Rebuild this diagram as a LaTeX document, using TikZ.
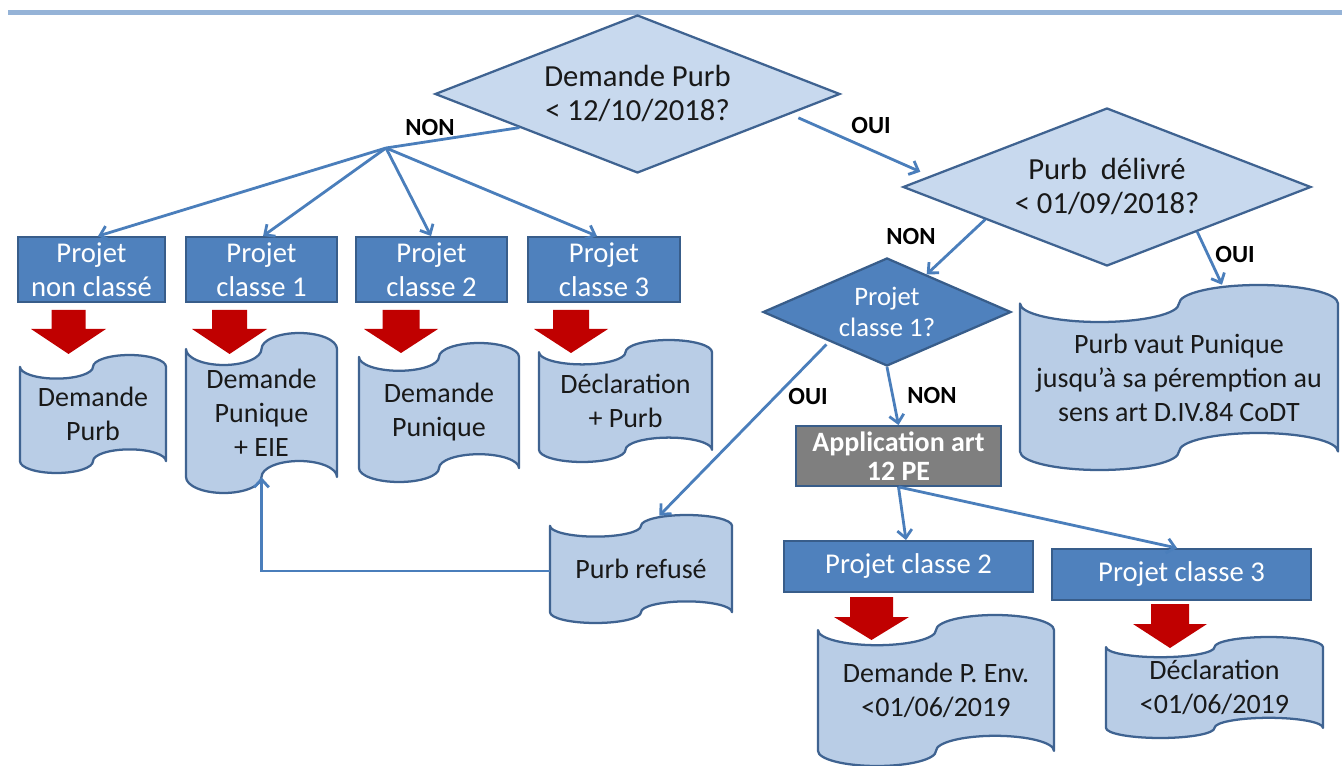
\documentclass[tikz,border=0pt]{standalone}
\usepackage{fontspec}
\setmainfont{Carlito}
\usetikzlibrary{arrows.meta,calc,shapes.geometric}
\definecolor{docfill}{RGB}{185,205,230}
\definecolor{diafill}{RGB}{200,217,238}
\definecolor{shapeborder}{RGB}{63,99,145}
\definecolor{boxfill}{RGB}{79,129,189}
\definecolor{boxborder}{RGB}{56,93,138}
\definecolor{connblue}{RGB}{74,126,187}
\definecolor{redarrowc}{RGB}{192,0,0}
\definecolor{grayfill}{RGB}{127,127,127}
\definecolor{topbarc}{RGB}{149,179,215}
\definecolor{textdark}{RGB}{25,25,25}

% punched-tape document: name, x, y, w, h, text
\newcommand{\tape}[6]{%
  \pgfmathsetmacro\tpa{#4/4}\pgfmathsetmacro\tpb{#5/10}%
  \pgfmathsetmacro\tpka{0.5523*#4/4}\pgfmathsetmacro\tpkb{0.5523*#5/10}%
  \pgfmathsetmacro\tpxa{#2}\pgfmathsetmacro\tpxb{#2+\tpa}\pgfmathsetmacro\tpxc{#2+2*\tpa}%
  \pgfmathsetmacro\tpxd{#2+3*\tpa}\pgfmathsetmacro\tpxe{#2+4*\tpa}%
  \pgfmathsetmacro\tpya{#3}\pgfmathsetmacro\tpyb{#3+\tpb}\pgfmathsetmacro\tpyc{#3+2*\tpb}%
  \pgfmathsetmacro\tpyd{#3+8*\tpb}\pgfmathsetmacro\tpye{#3+9*\tpb}\pgfmathsetmacro\tpyf{#3+10*\tpb}%
  \draw[docshape] (\tpxa,\tpyb)
    .. controls (\tpxa,{\tpyb+\tpkb}) and ({\tpxb-\tpka},\tpyc) .. (\tpxb,\tpyc)
    .. controls ({\tpxb+\tpka},\tpyc) and (\tpxc,{\tpyb+\tpkb}) .. (\tpxc,\tpyb)
    .. controls (\tpxc,{\tpyb-\tpkb}) and ({\tpxd-\tpka},\tpya) .. (\tpxd,\tpya)
    .. controls ({\tpxd+\tpka},\tpya) and (\tpxe,{\tpyb-\tpkb}) .. (\tpxe,\tpyb)
    -- (\tpxe,\tpye)
    .. controls (\tpxe,{\tpye-\tpkb}) and ({\tpxd+\tpka},\tpyd) .. (\tpxd,\tpyd)
    .. controls ({\tpxd-\tpka},\tpyd) and (\tpxc,{\tpye-\tpkb}) .. (\tpxc,\tpye)
    .. controls (\tpxc,{\tpye+\tpkb}) and ({\tpxb+\tpka},\tpyf) .. (\tpxb,\tpyf)
    .. controls ({\tpxb-\tpka},\tpyf) and (\tpxa,{\tpye+\tpkb}) .. (\tpxa,\tpye)
    -- cycle;
  \node[doctext, minimum width={#4*0.75pt}, minimum height={#5*0.75pt}] (#1) at ({#2+#4/2},{#3+#5/2}) {#6};%
}
% rectangle box: name, x1, y1, x2, y2, style, text
\newcommand{\rbox}[7]{%
  \node[#6, minimum width={(#4-#2)*0.75pt}, minimum height={(#5-#3)*0.75pt}] (#1) at ({(#2+#4)/2},{(#3+#5)/2}) {#7};%
}
% red block arrow: cx, top, neck, tip, shaft half width, head half width
\newcommand{\redarr}[6]{%
  \fill[redarrowc] ({#1-#5},#2) -- ({#1+#5},#2) -- ({#1+#5},#3) -- ({#1+#6},#3) -- (#1,#4) -- ({#1-#6},#3) -- ({#1-#5},#3) -- cycle;%
}

\begin{document}
\begin{tikzpicture}[x=0.75pt,y=-0.75pt,
  docshape/.style={fill=docfill, draw=shapeborder, line width=1.7pt, line join=round},
  doctext/.style={inner sep=0pt, align=center, text=textdark, font=\fontsize{21}{25.5}\selectfont},
  bluebox/.style={rectangle, fill=boxfill, draw=boxborder, line width=1.4pt, text=white, align=center, inner sep=0pt, font=\fontsize{21.5}{25.5}\selectfont},
  graybox/.style={bluebox, fill=grayfill, font=\bfseries\fontsize{21}{22}\selectfont},
  decision/.style={diamond, fill=diafill, draw=shapeborder, line width=1.7pt, align=center, inner sep=0pt, text=textdark, font=\fontsize{23}{25.5}\selectfont},
  decisiondark/.style={decision, fill=boxfill, draw=boxborder, text=white, font=\fontsize{20}{23.5}\selectfont},
  conn/.style={draw=connblue, line width=2.1pt, -{Straight Barb[length=6pt,width=11pt]}},
  plainconn/.style={draw=connblue, line width=2.1pt},
  lbl/.style={font=\bfseries\fontsize{18.5}{22}\selectfont, inner sep=0pt, text=black},
  topbar/.style={draw=topbarc, line width=3.8pt}]

\fill[white] (0,0) rectangle (1342,766);
\useasboundingbox (0,0) rectangle (1342,766);

\draw[topbar] (8,12.5) -- (1342,12.5);

% decisions
\node[decision, minimum width={405*0.75pt}, minimum height={158*0.75pt}, aspect=2.56] (d1) at (637.5,94) {Demande Purb\\< 12/10/2018?};
\node[decision, minimum width={408*0.75pt}, minimum height={158*0.75pt}, aspect=2.58] (d2) at (1107,187) {Purb\ \ délivré\\< 01/09/2018?};
\node[decisiondark, minimum width={248*0.75pt}, minimum height={108*0.75pt}, aspect=2.3] (d3) at (887,312) {Projet\\classe 1?};

% project boxes row 1
\rbox{b1}{18}{237}{165}{302}{bluebox}{Projet\\non classé}
\rbox{b2}{186}{237}{337}{302}{bluebox}{Projet\\classe 1}
\rbox{b3}{356}{237}{507}{302}{bluebox}{Projet\\classe 2}
\rbox{b4}{528}{237}{680}{302}{bluebox}{Projet\\classe 3}

% documents
\tape{D1}{20}{355}{146}{118}{Demande\\Purb}
\tape{D2}{186}{333}{151}{160}{Demande\\Punique\\+ EIE}
\tape{D3}{359}{343}{160}{139}{Demande\\Punique}
\tape{D4}{539}{340}{173}{122}{Déclaration\\+ Purb}
\tape{D5}{1020}{285}{318}{185}{Purb vaut Punique\\jusqu’à sa péremption au\\sens art D.IV.84 CoDT}
\tape{D6}{550}{515}{182}{108}{Purb refusé}
\tape{D7}{818}{615}{236}{151}{Demande P. Env.\\<01/06/2019}
\tape{D8}{1106}{637}{217}{101}{Déclaration\\<01/06/2019}

% gray box and lower project boxes
\rbox{g}{796}{426}{1001}{486}{graybox}{Application art\\12 PE}
\rbox{c2}{784}{541}{1033}{592}{bluebox}{Projet classe 2}
\rbox{c3}{1052}{549}{1311}{600}{bluebox}{Projet classe 3}

% red block arrows
\redarr{68.5}{310}{329}{354}{17}{37.5}
\redarr{229.5}{310}{329}{354}{17.5}{37.5}
\redarr{401}{310}{329}{353}{18.5}{37}
\redarr{571}{310}{329}{353}{18}{37}
\redarr{871.5}{597}{617}{640}{21.5}{37.5}
\redarr{1170}{604}{624}{648}{19}{37}

% connectors
\coordinate (J) at (386,148);
\draw[plainconn] ($(d1.west)!0.42!(d1.south)$) -- (J);
\draw[conn] (J) -- ($(b1.north west)!0.544!(b1.north east)$);
\draw[conn] (J) -- ($(b2.north west)!0.51!(b2.north east)$);
\draw[conn] (J) -- ($(b3.north west)!0.497!(b3.north east)$);
\draw[conn] (J) -- ($(b4.north west)!0.454!(b4.north east)$);

\draw[conn] ($(d1.south)!0.79!(d1.east)+(0,7)$) -- ($(d2.west)!0.09!(d2.north)+(0,-8)$);
\draw[conn] ($(d2.west)!0.406!(d2.south)$) -- ($(d3.north)!0.317!(d3.east)$);
\draw[conn] ($(d2.south)!0.44!(d2.east)$) -- ($(D5.north west)!0.635!(D5.north east)$);
\draw[conn] ($(d3.west)!0.516!(d3.south)+(0,4)$) -- ($(D6.north west)!0.6!(D6.north east)+(0,1)$);
\draw[conn] (d3.south) -- (g.north);
\draw[conn] ($(D6.west)+(0,2)$) -| ($(D2.south)+(0,-16)$);
\draw[conn] (g.south) -- ($(c2.north west)!0.49!(c2.north east)$);
\draw[conn] (g.south) -- ($(c3.north west)!0.483!(c3.north east)$);

% labels
\node[lbl] (l1) at (430,127) {NON};
\node[lbl] (l2) at (871,126) {OUI};
\node[lbl] (l3) at (911,236) {NON};
\node[lbl] (l4) at (1235,255) {OUI};
\node[lbl] (l5) at (808,397) {OUI};
\node[lbl] (l6) at (932,395) {NON};
\end{tikzpicture}
\end{document}
